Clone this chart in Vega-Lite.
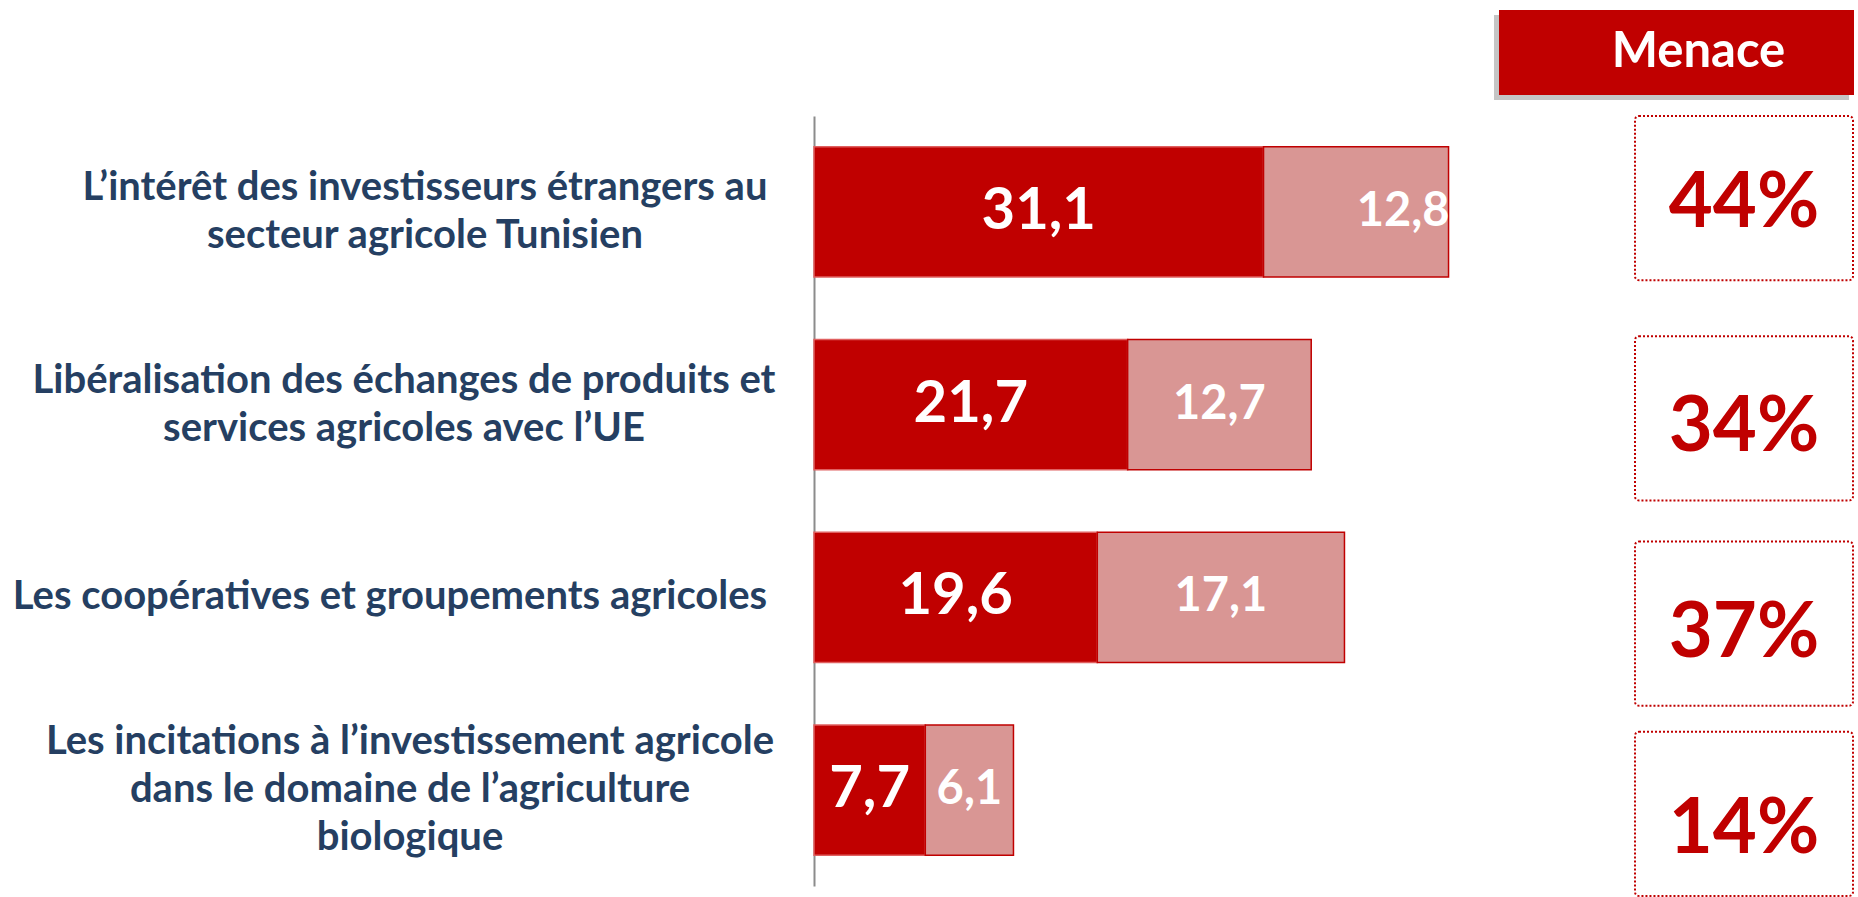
{
  "$schema": "https://vega.github.io/schema/vega-lite/v6.json",
  "padding": 0,
  "spacing": 0,
  "background": "white",
  "config": {"view": {"stroke": null}, "font": "Lato"},
  "datasets": {
    "rows": [
      {"row": "1", "col": "Menace", "label": "L’intérêt des investisseurs étrangers au\nsecteur agricole Tunisien", "pct": "44%"},
      {"row": "2", "col": "Menace", "label": "Libéralisation des échanges de produits et\nservices agricoles avec l’UE", "pct": "34%"},
      {"row": "3", "col": "Menace", "label": "Les coopératives et groupements agricoles", "pct": "37%"},
      {"row": "4", "col": "Menace", "label": "Les incitations à l’investissement agricole\ndans le domaine de l’agriculture\nbiologique", "pct": "14%"}
    ],
    "bars": [
      {"row": "1", "seg": "A", "v": 31.1, "lbl": "31,1"},
      {"row": "1", "seg": "B", "v": 12.8, "lbl": "12,8"},
      {"row": "2", "seg": "A", "v": 21.7, "lbl": "21,7"},
      {"row": "2", "seg": "B", "v": 12.7, "lbl": "12,7"},
      {"row": "3", "seg": "A", "v": 19.6, "lbl": "19,6"},
      {"row": "3", "seg": "B", "v": 17.1, "lbl": "17,1"},
      {"row": "4", "seg": "A", "v": 7.7, "lbl": "7,7"},
      {"row": "4", "seg": "B", "v": 6.1, "lbl": "6,1"}
    ]
  },
  "vconcat": [
    {
      "spacing": 0,
      "bounds": "flush",
      "hconcat": [
        {
          "width": 1499,
          "height": 115,
          "data": {"values": [{"t": ""}]},
          "mark": {"type": "text"},
          "encoding": {"text": {"field": "t"}}
        },
        {
          "width": 355,
          "height": 115,
          "data": {"values": [{"h": "Menace"}]},
          "encoding": {
            "x": {"field": "h", "type": "nominal", "axis": null, "scale": {"paddingInner": 0, "paddingOuter": 0}},
            "y": {"field": "h", "type": "nominal", "axis": null, "scale": {"paddingInner": 0, "paddingOuter": 0.1765, "align": 0.333}}
          },
          "layer": [
            {"mark": {"type": "rect", "color": "#7F7F7F", "opacity": 0.45, "xOffset": -5, "x2Offset": -5, "yOffset": 5, "y2Offset": 5}},
            {"mark": {"type": "rect", "color": "#C00000"}},
            {"mark": {"type": "text", "color": "white", "fontSize": 49, "fontWeight": "bold", "dx": 22}, "encoding": {"text": {"field": "h"}}}
          ]
        }
      ]
    },
    {
      "spacing": 0,
      "bounds": "flush",
      "hconcat": [
        {
          "width": 814,
          "height": 770,
          "data": {"name": "rows"},
          "encoding": {
            "y": {"field": "row", "type": "nominal", "axis": null, "scale": {"domain": ["1", "2", "3", "4"], "paddingInner": 0.325, "paddingOuter": 0.16}},
            "text": {"field": "label"}
          },
          "layer": [
            {
              "transform": [{"filter": "datum.row === '1'"}],
              "mark": {"type": "text", "lineBreak": "\n", "fontSize": 40, "fontWeight": "bold", "color": "#253F62", "lineHeight": 48, "align": "center", "baseline": "middle", "dx": 18, "dy": -24}
            },
            {
              "transform": [{"filter": "datum.row === '2'"}],
              "mark": {"type": "text", "lineBreak": "\n", "fontSize": 40, "fontWeight": "bold", "color": "#253F62", "lineHeight": 48, "align": "center", "baseline": "middle", "dx": -3, "dy": -24}
            },
            {
              "transform": [{"filter": "datum.row === '3'"}],
              "mark": {"type": "text", "lineBreak": "\n", "fontSize": 40, "fontWeight": "bold", "color": "#253F62", "lineHeight": 48, "align": "center", "baseline": "middle", "dx": -17, "dy": 0}
            },
            {
              "transform": [{"filter": "datum.row === '4'"}],
              "mark": {"type": "text", "lineBreak": "\n", "fontSize": 40, "fontWeight": "bold", "color": "#253F62", "lineHeight": 48, "align": "center", "baseline": "middle", "dx": 3, "dy": -48}
            }
          ]
        },
        {
          "width": 821,
          "height": 770,
          "data": {"name": "bars"},
          "encoding": {
            "y": {"field": "row", "type": "nominal", "scale": {"domain": ["1", "2", "3", "4"], "paddingInner": 0.325, "paddingOuter": 0.16},
                  "axis": {"labels": false, "ticks": false, "title": null, "domainColor": "#8C8C8C", "domainWidth": 2}}
          },
          "layer": [
            {
              "mark": {"type": "bar", "strokeWidth": 1.5},
              "encoding": {
                "x": {"field": "v", "type": "quantitative", "stack": "zero", "scale": {"domain": [0, 56.8], "nice": false}, "axis": null},
                "order": {"field": "seg"},
                "color": {"field": "seg", "type": "nominal", "scale": {"domain": ["A", "B"], "range": ["#C00000", "#D99694"]}, "legend": null},
                "stroke": {"field": "seg", "type": "nominal", "scale": {"domain": ["A", "B"], "range": ["#E06060", "#C00000"]}, "legend": null}
              }
            },
            {
              "transform": [
                {"stack": "v", "groupby": ["row"], "sort": [{"field": "seg"}], "as": ["x0", "x1"]},
                {"filter": "datum.seg === 'A'"},
                {"fold": ["x0", "x1"], "as": ["edge", "pos"]}
              ],
              "mark": {"type": "text", "color": "white", "fontWeight": "bold", "baseline": "middle", "align": "center", "fontSize": 58},
              "encoding": {
                "x": {"aggregate": "mean", "field": "pos", "type": "quantitative", "axis": null},
                "text": {"field": "lbl"}
              }
            },
            {
              "transform": [
                {"stack": "v", "groupby": ["row"], "sort": [{"field": "seg"}], "as": ["x0", "x1"]},
                {"filter": "datum.seg === 'B' && datum.row !== '1'"},
                {"fold": ["x0", "x1"], "as": ["edge", "pos"]}
              ],
              "mark": {"type": "text", "color": "white", "fontWeight": "bold", "baseline": "middle", "align": "center", "fontSize": 47},
              "encoding": {
                "x": {"aggregate": "mean", "field": "pos", "type": "quantitative", "axis": null},
                "text": {"field": "lbl"}
              }
            },
            {
              "transform": [
                {"stack": "v", "groupby": ["row"], "sort": [{"field": "seg"}], "as": ["x0", "x1"]},
                {"filter": "datum.seg === 'B' && datum.row === '1'"}
              ],
              "mark": {"type": "text", "color": "white", "fontWeight": "bold", "baseline": "middle", "align": "right", "fontSize": 47, "dx": 1},
              "encoding": {
                "x": {"field": "x1", "type": "quantitative", "axis": null},
                "text": {"field": "lbl"}
              }
            }
          ]
        },
        {
          "width": 218,
          "height": 780,
          "data": {"name": "rows"},
          "encoding": {
            "y": {"field": "row", "type": "nominal", "axis": null, "scale": {"domain": ["1", "2", "3", "4"], "paddingInner": 0.2, "paddingOuter": 0}},
            "x": {"field": "col", "type": "nominal", "axis": null, "scale": {"paddingInner": 0, "paddingOuter": 0}},
            "text": {"field": "pct"}
          },
          "layer": [
            {
              "transform": [{"filter": "datum.row === '1' || datum.row === '4'"}],
              "mark": {"type": "rect", "fill": "white", "stroke": "#C00000", "strokeWidth": 2, "strokeDash": [2, 2], "cornerRadius": 4}
            },
            {
              "transform": [{"filter": "datum.row === '2' || datum.row === '3'"}],
              "mark": {"type": "rect", "fill": "white", "stroke": "#C00000", "strokeWidth": 2, "strokeDash": [2, 2], "cornerRadius": 4, "yOffset": 15, "y2Offset": 15}
            },
            {
              "transform": [{"filter": "datum.row === '1'"}],
              "mark": {"type": "text", "color": "#C00000", "fontSize": 76, "fontWeight": "bold", "baseline": "middle", "align": "center", "dy": 6}
            },
            {
              "transform": [{"filter": "datum.row === '2' || datum.row === '3'"}],
              "mark": {"type": "text", "color": "#C00000", "fontSize": 76, "fontWeight": "bold", "baseline": "middle", "align": "center", "dy": 25}
            },
            {
              "transform": [{"filter": "datum.row === '4'"}],
              "mark": {"type": "text", "color": "#C00000", "fontSize": 76, "fontWeight": "bold", "baseline": "middle", "align": "center", "dy": 16}
            }
          ]
        }
      ]
    }
  ]
}
